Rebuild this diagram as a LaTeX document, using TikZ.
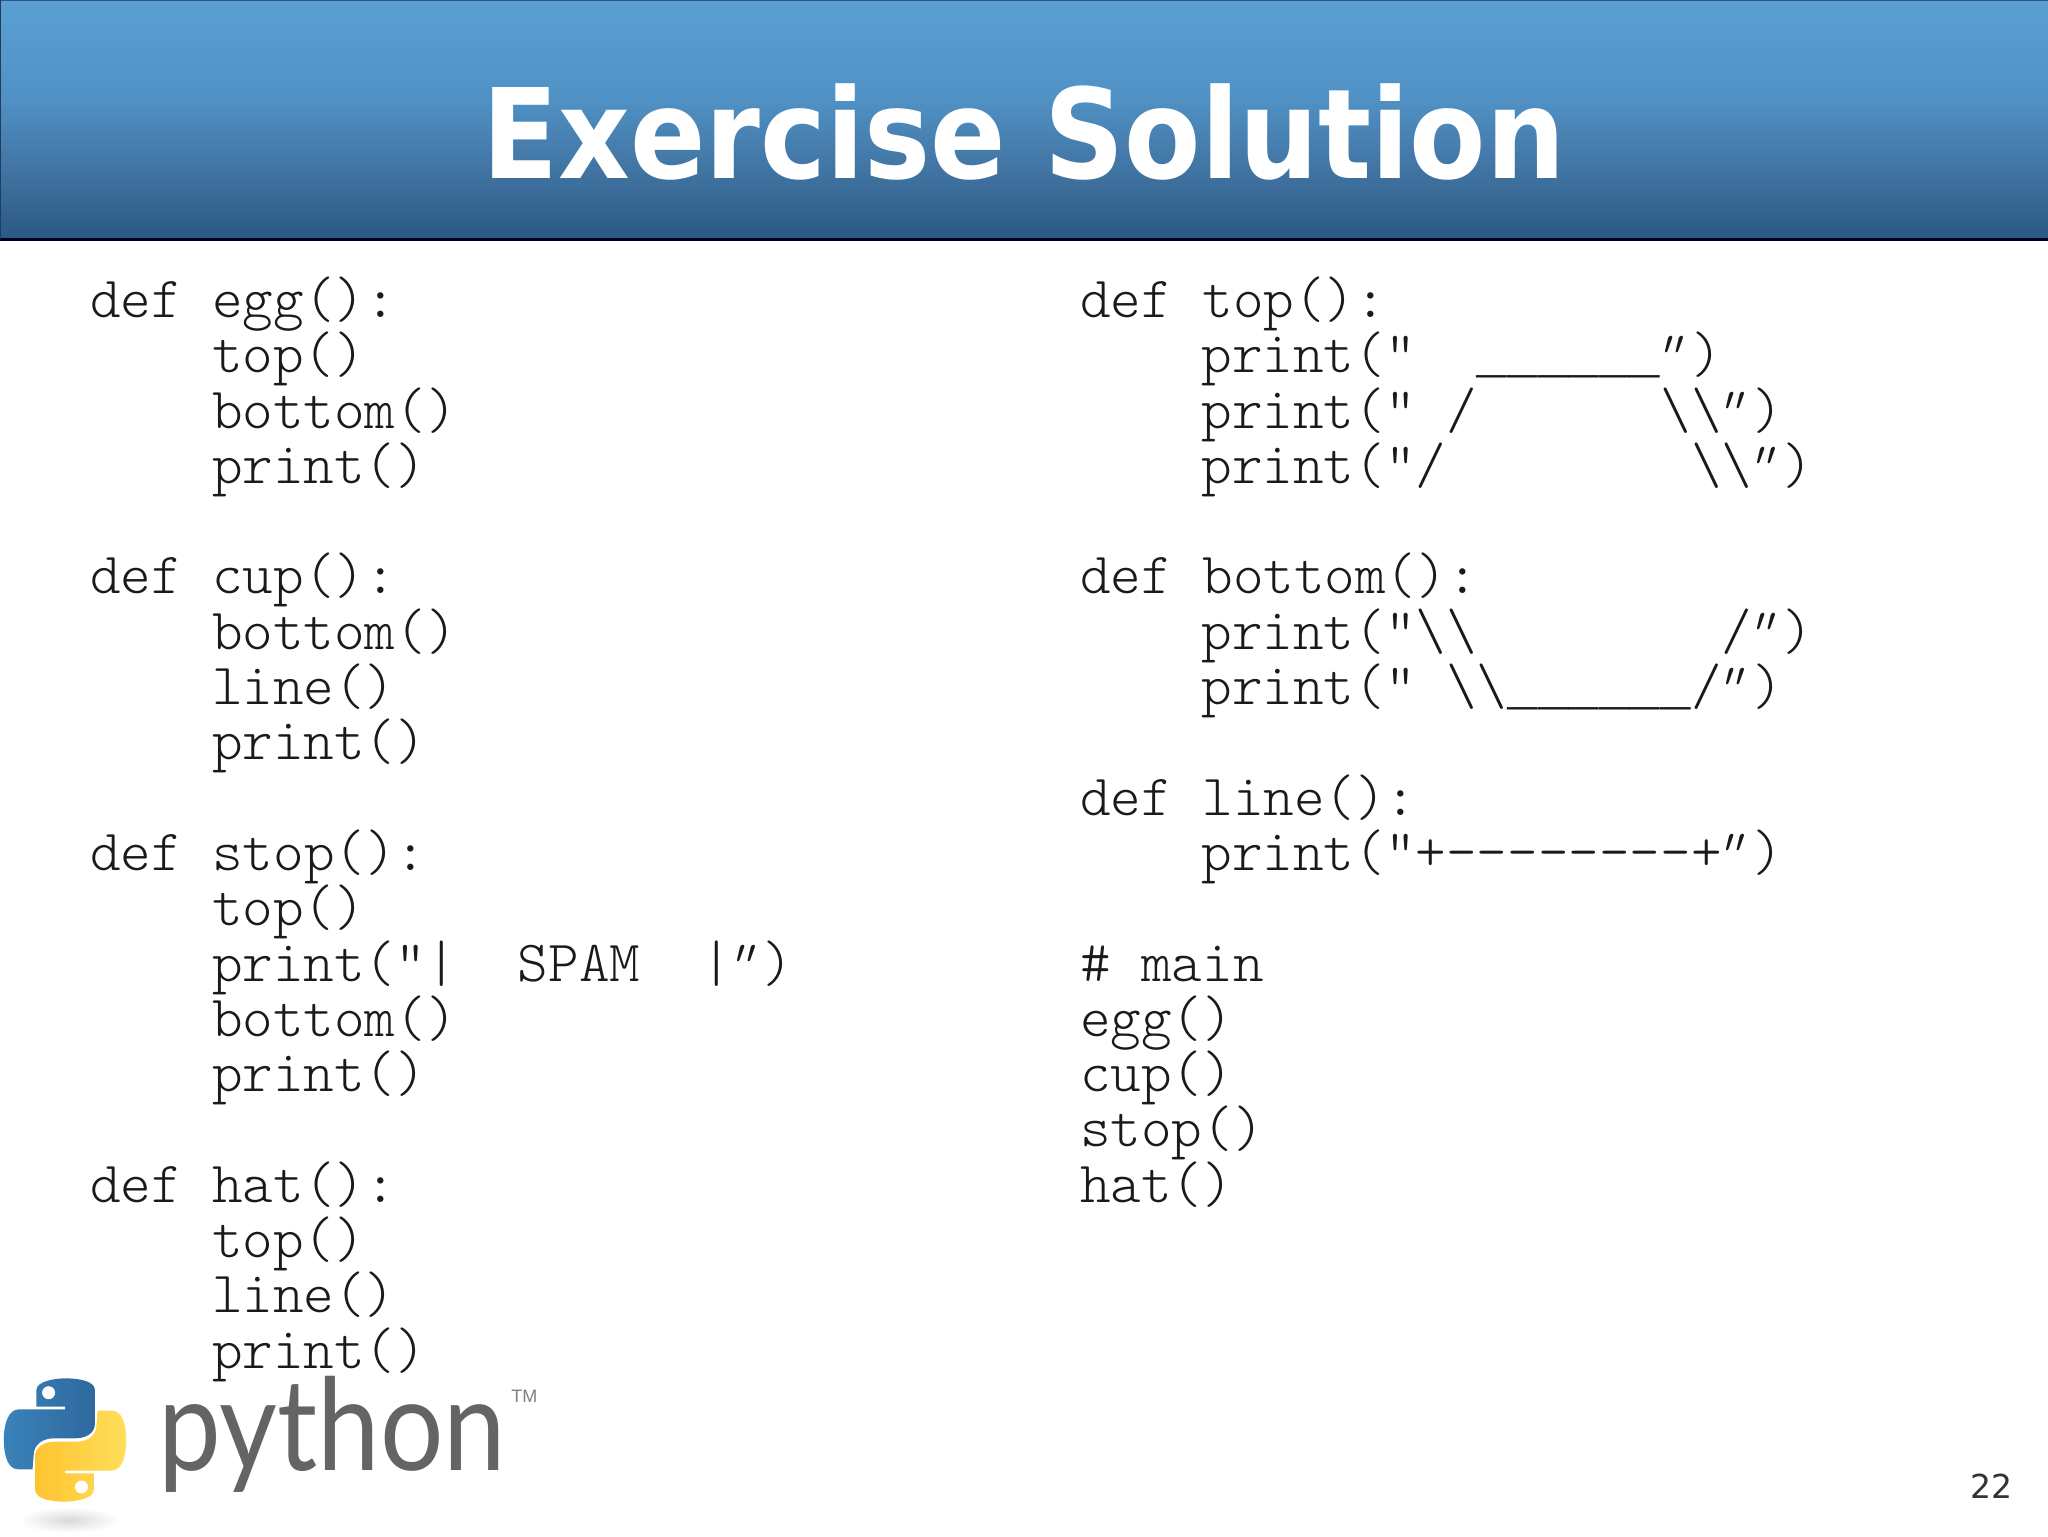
\documentclass[tikz,border=0pt]{standalone}
\usepackage{fontspec}
\setmainfont{DejaVu Sans}
\newfontfamily\codefont{Latin Modern Mono Light}
\newfontfamily\codeslant[FakeSlant=0.3]{Latin Modern Mono Light}
\newfontfamily\usfont{Liberation Mono}
\newfontfamily\logofont{Lato}
\newfontfamily\tmfont{Liberation Sans}
\definecolor{bandA}{HTML}{5AA0D3}
\definecolor{bandB}{HTML}{5192C6}
\definecolor{bandC}{HTML}{3F719F}
\definecolor{bandD}{HTML}{2B5884}
\definecolor{codeink}{HTML}{1A1A1A}
\definecolor{logogrey}{HTML}{646464}
\definecolor{snakeblueA}{HTML}{3A82BA}
\definecolor{snakeblueB}{HTML}{2E689E}
\definecolor{snakeyelA}{HTML}{FFC430}
\definecolor{snakeyelB}{HTML}{FFDE5A}
\pgfdeclareverticalshading{bannershade}{100bp}{color(0bp)=(bandD); color(25bp)=(bandD); color(38bp)=(bandC); color(55bp)=(bandB); color(75bp)=(bandA); color(100bp)=(bandA)}
\newcommand{\cq}{\makebox[0.525em][l]{\kern-0.17em\codeslant"}}
\newcommand{\bs}{\textbackslash}
\newcommand{\usrun}{{\usfont\fontsize{25.5}{30}\selectfont\_\_\_\_\_\_}}
\newcommand{\cl}[4]{\node[codeline] (#1) at (#2,{317.4+55.3*#3}) {#4};}
\newcommand{\snakeshape}{(95,200) -- (95,150) .. controls (95,125) and (140,115) .. (172,115) .. controls (210,115) and (248,125) .. (248,150) -- (248,250) .. controls (248,280) and (225,295) .. (195,295) -- (140,295) .. controls (110,295) and (88,315) .. (88,345) -- (85,388) -- (48,388) .. controls (20,388) and (10,345) .. (10,300) .. controls (10,250) and (22,208) .. (50,208) -- (170,208) -- (170,200) -- cycle}
\tikzset{codeline/.style={anchor=base west,inner sep=0pt,outer sep=0pt,text=codeink,font=\codefont\fontsize{29.14}{30}\selectfont}}
\begin{document}
\begin{tikzpicture}[x=0.5pt,y=-0.5pt]
\useasboundingbox (0,0) rectangle (2048,1536);
\fill[white] (0,0) rectangle (2048,1536);
% banner
\path[shading=bannershade] (0,0) rectangle (2048,239);
\draw[line width=1.5pt,black!85!blue] (0,239) -- (2048,239);
\draw[line width=1pt,bandD] (0,0) -- (2048,0);
\draw[line width=1pt,bandD!70!black] (0,0) -- (0,239);
\node[anchor=base,inner sep=0pt,text=white,xscale=0.891,transform shape,font=\bfseries\fontsize{62.4}{70}\selectfont] (title) at (1024,178) {Exercise Solution};
% left column
\cl{a0}{90}{0}{def egg():}
\cl{a1}{212}{1}{top()}
\cl{a2}{212}{2}{bottom()}
\cl{a3}{212}{3}{print()}
\cl{a5}{90}{5}{def cup():}
\cl{a6}{212}{6}{bottom()}
\cl{a7}{212}{7}{line()}
\cl{a8}{212}{8}{print()}
\cl{a10}{90}{10}{def stop():}
\cl{a11}{212}{11}{top()}
\cl{a12}{212}{12}{print("|~~SPAM~~|\cq)}
\cl{a13}{212}{13}{bottom()}
\cl{a14}{212}{14}{print()}
\cl{a16}{90}{16}{def hat():}
\cl{a17}{212}{17}{top()}
\cl{a18}{212}{18}{line()}
\cl{a19}{212}{19}{print()}
% right column
\cl{b0}{1080}{0}{def top():}
\cl{b1}{1201.5}{1}{print("~~\usrun\cq)}
\cl{b2}{1201.5}{2}{print("~/~~~~~~\bs\bs\cq)}
\cl{b3}{1201.5}{3}{print("/~~~~~~~~\bs\bs\cq)}
\cl{b5}{1080}{5}{def bottom():}
\cl{b6}{1201.5}{6}{print("\bs\bs~~~~~~~~/\cq)}
\cl{b7}{1201.5}{7}{print("~\bs\bs\usrun/\cq)}
\cl{b9}{1080}{9}{def line():}
\cl{b10}{1201.5}{10}{print("+{-}{-}{-}{-}{-}{-}{-}{-}+\cq)}
\cl{b12}{1080}{12}{\#~main}
\cl{b13}{1080}{13}{egg()}
\cl{b14}{1080}{14}{cup()}
\cl{b15}{1080}{15}{stop()}
\cl{b16}{1080}{16}{hat()}
% page number
\node[anchor=base east,inner sep=0pt,text=black!80,font=\fontsize{16.5}{18}\selectfont] (pagenum) at (2013,1498) {22};
% logo
\begin{scope}[shift={(0,1340)},xscale=0.3827,yscale=0.3333]
  \shade[inner color=black!15,outer color=white,draw=none] (180,540) ellipse [x radius=130,y radius=38];
  \shade[left color=snakeblueA,right color=snakeblueB,draw=none] \snakeshape;
  \begin{scope}[shift={(340,600)},xscale=-1,yscale=-1]
    \shade[left color=snakeyelA,right color=snakeyelB,draw=none] \snakeshape;
  \end{scope}
\end{scope}
\fill[white] (48.6,1392.7) circle [radius=6.5];
\fill[white] (81.5,1487) circle [radius=6.5];
\node[anchor=base west,inner sep=0pt,text=logogrey,xscale=0.875,transform shape,font=\logofont\fontsize{64}{64}\selectfont] (pylogo) at (158,1470) {python};
\node[anchor=base west,inner sep=0pt,text=black!50,font=\tmfont\fontsize{9}{9}\selectfont] (tm) at (511,1402) {TM};
\end{tikzpicture}
\end{document}
